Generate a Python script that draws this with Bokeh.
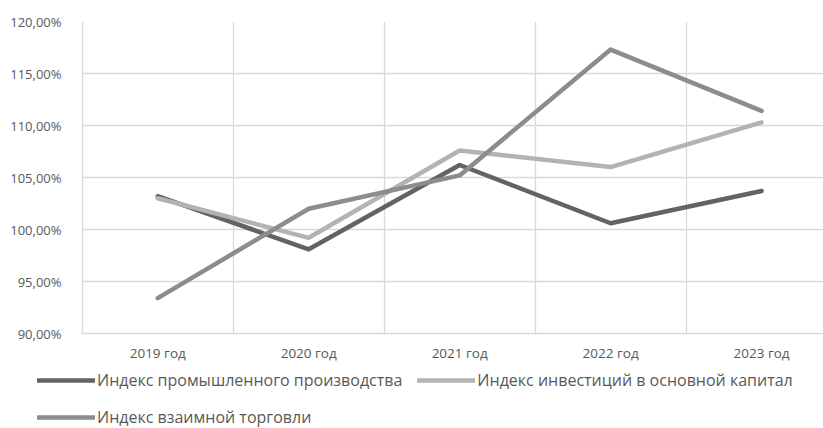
from bokeh.plotting import figure
from bokeh.models import Range1d, FixedTicker, Legend, LegendItem
from bokeh.layouts import column
from bokeh.embed import file_html
from bokeh.resources import INLINE

years = ["2019 год", "2020 год", "2021 год", "2022 год", "2023 год"]
industrial = [103.2, 98.1, 106.2, 100.6, 103.7]
investment = [103.0, 99.2, 107.6, 106.0, 110.3]
trade = [93.4, 102.0, 105.2, 117.3, 111.4]
series_names = [
    "Индекс промышленного производства",
    "Индекс инвестиций в основной капитал",
    "Индекс взаимной торговли",
]
series_colors = ["#636363", "#b3b3b3", "#8c8c8c"]
y_ticks = [90, 95, 100, 105, 110, 115, 120]
y_tick_labels = ["90,00%", "95,00%", "100,00%", "105,00%", "110,00%", "115,00%", "120,00%"]

FONT = "Open Sans"
TXT = "#595959"
GRID = "#d9d9d9"

xs = list(range(len(years)))
all_series = [industrial, investment, trade]

p = figure(width=823, height=370, output_backend="svg", toolbar_location=None,
           x_range=Range1d(-0.505, 4.41), y_range=Range1d(90, 120),
           min_border_left=81, min_border_right=0, min_border_top=21, min_border_bottom=37)
p.outline_line_color = None
p.frame_align = False

for vals, col in zip(all_series, series_colors):
    p.line(xs, vals, line_color=col, line_width=4.5, line_cap="round", line_join="round")

# axes
p.xaxis.ticker = FixedTicker(ticks=xs)
p.xaxis.major_label_overrides = {i: y for i, y in enumerate(years)}
p.xaxis.major_tick_line_color = None
p.xaxis.minor_tick_line_color = None
p.xaxis.axis_line_color = GRID
p.xaxis.axis_line_width = 1.3
p.xaxis.major_label_text_font = FONT
p.xaxis.major_label_text_font_size = "13.5px"
p.xaxis.major_label_text_color = TXT
p.xaxis.major_label_standoff = 4

p.yaxis.ticker = FixedTicker(ticks=y_ticks)
p.yaxis.major_label_overrides = {t: l for t, l in zip(y_ticks, y_tick_labels)}
p.yaxis.major_tick_line_color = None
p.yaxis.minor_tick_line_color = None
p.yaxis.axis_line_color = None
p.yaxis.major_label_text_font = FONT
p.yaxis.major_label_text_font_size = "13px"
p.yaxis.major_label_text_color = TXT
p.yaxis.major_label_standoff = 14

p.xgrid.ticker = FixedTicker(ticks=[x - 0.5 for x in xs])
p.xgrid.grid_line_color = GRID
p.xgrid.grid_line_width = 1.3
p.ygrid.grid_line_color = GRID
p.ygrid.grid_line_width = 1.3

# legend strip below the chart (series drawn out of its view range, only legend shows)
lg = figure(width=823, height=58, output_backend="svg", toolbar_location=None,
            x_range=Range1d(-0.505, 4.41), y_range=Range1d(0, 1),
            x_axis_location=None, y_axis_location=None,
            min_border_left=0, min_border_right=0, min_border_top=0, min_border_bottom=0)
lg.outline_line_color = None
lg.frame_align = False
lg.xgrid.visible = False
lg.ygrid.visible = False
proxies = [lg.line(xs, vals, line_color=c, line_width=4.5, line_cap="round")
           for vals, c in zip(all_series, series_colors)]

legend = Legend(
    items=[LegendItem(label=n, renderers=[r]) for n, r in zip(series_names, proxies)],
    location=(37, 0), orientation="horizontal", ncols=2,
    glyph_width=58, glyph_height=20, label_height=20, label_standoff=2,
    spacing=15, padding=0, margin=0,
    label_text_font=FONT, label_text_font_size="16px", label_text_color=TXT,
    border_line_color=None, background_fill_alpha=0,
)
lg.add_layout(legend, "center")

layout = column(p, lg, spacing=0)
open("out.html", "w").write(file_html(layout, INLINE))
